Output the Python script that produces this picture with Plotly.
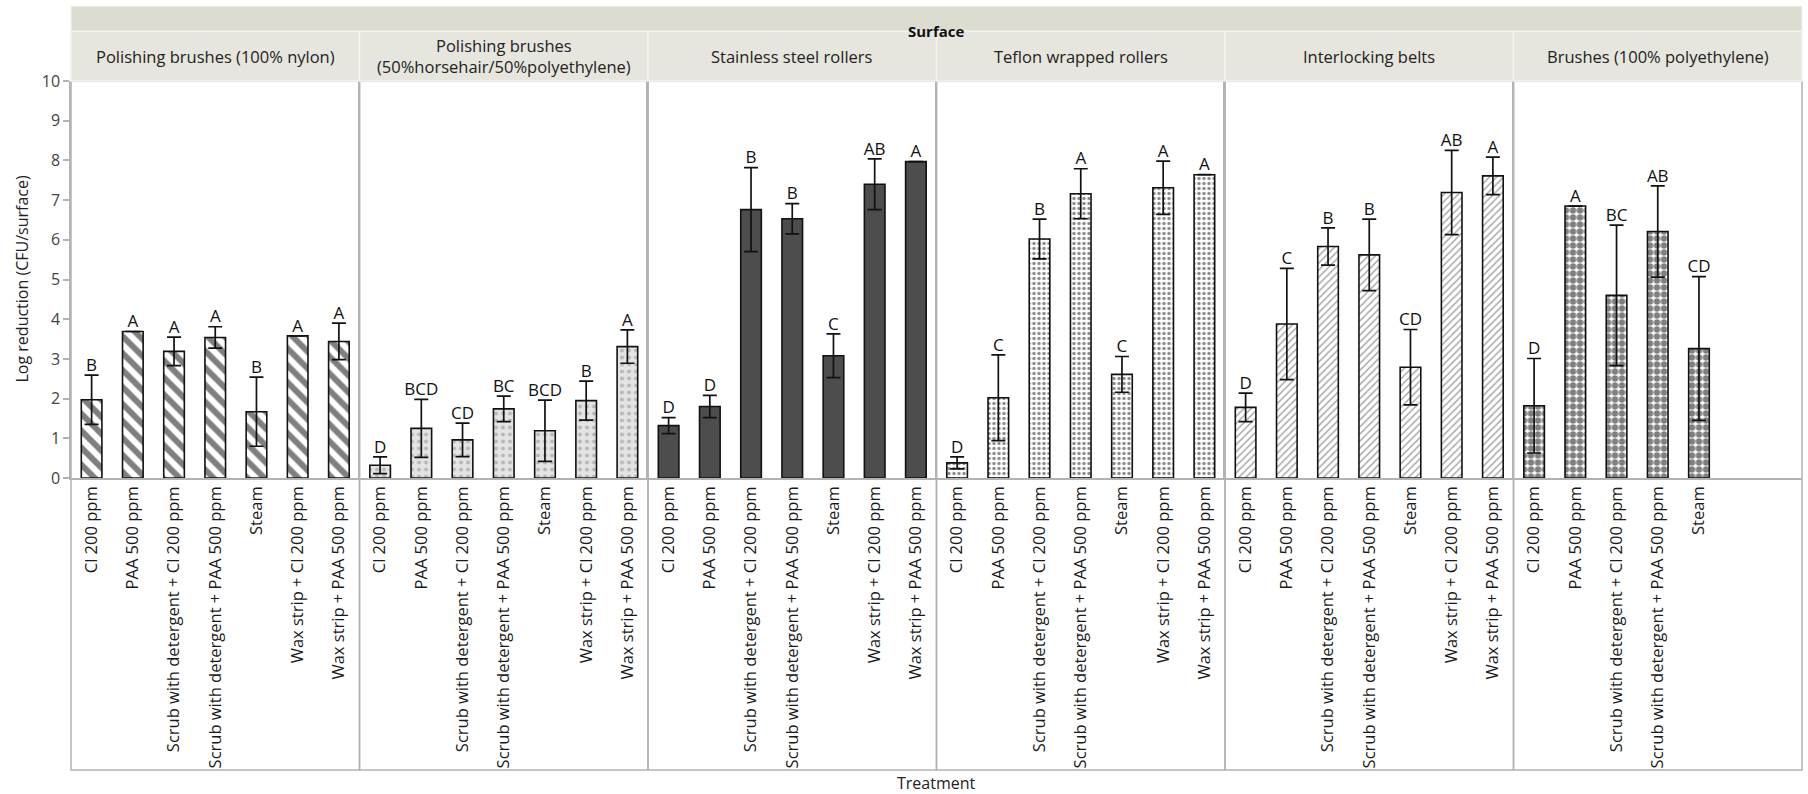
import plotly.graph_objects as go
from plotly.subplots import make_subplots

# ---------------- data ----------------
TREATMENTS = ["Cl 200 ppm", "PAA 500 ppm", "Scrub with detergent + Cl 200 ppm",
              "Scrub with detergent + PAA 500 ppm", "Steam",
              "Wax strip + Cl 200 ppm", "Wax strip + PAA 500 ppm"]
SURFACES = ["Polishing brushes (100% nylon)",
            "Polishing brushes<br>(50%horsehair/50%polyethylene)",
            "Stainless steel rollers", "Teflon wrapped rollers",
            "Interlocking belts", "Brushes (100% polyethylene)"]
Y_TICKS = [0, 1, 2, 3, 4, 5, 6, 7, 8, 9, 10]

nylon_mean = [1.97, 3.69, 3.19, 3.54, 1.67, 3.58, 3.44]
nylon_err = [0.62, 0.0, 0.36, 0.27, 0.87, 0.0, 0.46]
nylon_letters = ["B", "A", "A", "A", "B", "A", "A"]

horsehair_mean = [0.32, 1.25, 0.96, 1.74, 1.19, 1.95, 3.31]
horsehair_err = [0.21, 0.73, 0.42, 0.32, 0.77, 0.49, 0.42]
horsehair_letters = ["D", "BCD", "CD", "BC", "BCD", "B", "A"]

steel_mean = [1.32, 1.80, 6.76, 6.53, 3.08, 7.40, 7.97]
steel_err = [0.20, 0.28, 1.06, 0.38, 0.55, 0.64, 0.0]
steel_letters = ["D", "D", "B", "B", "C", "AB", "A"]

teflon_mean = [0.38, 2.02, 6.02, 7.16, 2.61, 7.31, 7.64]
teflon_err = [0.15, 1.08, 0.50, 0.63, 0.45, 0.67, 0.0]
teflon_letters = ["D", "C", "B", "A", "C", "A", "A"]

belts_mean = [1.78, 3.88, 5.83, 5.62, 2.79, 7.19, 7.61]
belts_err = [0.36, 1.40, 0.47, 0.90, 0.95, 1.06, 0.47]
belts_letters = ["D", "C", "B", "B", "CD", "AB", "A"]

poly_mean = [1.82, 6.85, 4.60, 6.21, 3.26]
poly_err = [1.19, 0.0, 1.77, 1.15, 1.81]
poly_letters = ["D", "A", "BC", "AB", "CD"]

MEANS = [nylon_mean, horsehair_mean, steel_mean, teflon_mean, belts_mean, poly_mean]
ERRS = [nylon_err, horsehair_err, steel_err, teflon_err, belts_err, poly_err]
LETTERS = [nylon_letters, horsehair_letters, steel_letters, teflon_letters,
           belts_letters, poly_letters]

# ---------------- styles ----------------
STYLES = [
    dict(shape="\\", fg="black", bg="white", size=12, solidity=0.5, color="white"),
    dict(shape=".", fg="#8a8a8a", bg="#e4e4e4", size=7, solidity=0.25, color="#e4e4e4"),
    dict(shape="", fg="#4d4d4d", bg="#4d4d4d", size=8, solidity=0.3, color="#4d4d4d"),
    dict(shape=".", fg="#111111", bg="white", size=5, solidity=0.35, color="white"),
    dict(shape="/", fg="#555555", bg="white", size=5, solidity=0.3, color="white"),
    dict(shape=".", fg="black", bg="white", size=7, solidity=0.65, color="white"),
]

W, H = 1808, 794
ML, MR, MT, MB = 71, 6, 81, 316
PH = H - MT - MB
FONT = "Open Sans"
GRAY = "#b3b3b3"


def py(px):
    """pixel y (from top) -> paper y"""
    return (H - MB - px) / PH


fig = make_subplots(rows=1, cols=6, shared_yaxes=True, horizontal_spacing=0)

for i in range(6):
    n = len(MEANS[i])
    cats = TREATMENTS[:n]
    st = STYLES[i]
    fig.add_trace(go.Bar(
        x=cats, y=MEANS[i], width=0.5,
        marker=dict(color=st["color"],
                    line=dict(color="#111111", width=1.6),
                    pattern=dict(shape=st["shape"], fgcolor=st["fg"], bgcolor=st["bg"],
                                 size=st["size"], solidity=st["solidity"],
                                 fillmode="overlay")),
        error_y=dict(type="data", array=ERRS[i], visible=True,
                     color="#111111", thickness=1.7, width=7),
        showlegend=False, hoverinfo="skip"), row=1, col=i + 1)
    tops = [m + e for m, e in zip(MEANS[i], ERRS[i])]
    fig.add_trace(go.Scatter(
        x=cats, y=tops, mode="text", text=LETTERS[i], textposition="top center",
        textfont=dict(family=FONT, size=17, color="#111111"),
        showlegend=False, hoverinfo="skip", cliponaxis=False), row=1, col=i + 1)
    fig.update_xaxes(type="category", categoryorder="array", categoryarray=cats,
                     range=[-0.5, 6.5], tickangle=-90, ticks="", showline=True,
                     linecolor=GRAY, linewidth=1.5, showgrid=False, automargin=False,
                     tickfont=dict(family=FONT, size=16.5, color="#1a1a1a"),
                     row=1, col=i + 1)

fig.update_yaxes(range=[0, 10], tickvals=Y_TICKS, showgrid=False, zeroline=False,
                 showline=True, linecolor=GRAY, linewidth=1.5, automargin=False)
fig.update_yaxes(ticks="outside", ticklen=6, tickcolor=GRAY, tickwidth=1.5,
                 tickfont=dict(family=FONT, size=16, color="#444444"), row=1, col=1)

shapes = []
annotations = []
y_bottom = py(770)
y_head_top = py(31)
y_surf_top = py(6)
for i in range(6):
    x0, x1 = i / 6, (i + 1) / 6
    shapes.append(dict(type="rect", xref="paper", yref="paper", x0=x0, x1=x1,
                       y0=y_bottom, y1=1, line=dict(color=GRAY, width=1.5),
                       fillcolor="rgba(0,0,0,0)", layer="above"))
    shapes.append(dict(type="rect", xref="paper", yref="paper", x0=x0, x1=x1,
                       y0=1, y1=y_head_top, line=dict(color="#f4f4ef", width=1.5),
                       fillcolor="#e6e6de", layer="above"))
    annotations.append(dict(text=SURFACES[i], xref="paper", yref="paper",
                            x=(x0 + x1) / 2, y=(1 + y_head_top) / 2, showarrow=False,
                            xanchor="center", yanchor="middle",
                            font=dict(family=FONT, size=16.5, color="#222222")))
shapes.append(dict(type="rect", xref="paper", yref="paper", x0=0, x1=1,
                   y0=y_head_top, y1=y_surf_top, line=dict(color="#f4f4ef", width=1),
                   fillcolor="#dcdcd1", layer="above"))
annotations.append(dict(text="<b>Surface</b>", xref="paper", yref="paper", x=0.5,
                        y=(y_head_top + y_surf_top) / 2, showarrow=False,
                        font=dict(family=FONT, size=15, color="#111111")))
annotations.append(dict(text="Log reduction (CFU/surface)", xref="paper", yref="paper",
                        x=(21 - ML) / (W - ML - MR), y=0.5, textangle=-90,
                        showarrow=False, xanchor="center", yanchor="middle",
                        font=dict(family=FONT, size=16, color="#222222")))
annotations.append(dict(text="Treatment", xref="paper", yref="paper", x=0.5,
                        y=py(783), showarrow=False, xanchor="center", yanchor="middle",
                        font=dict(family=FONT, size=16, color="#222222")))

fig.update_layout(width=W, height=H, margin=dict(l=ML, r=MR, t=MT, b=MB),
                  plot_bgcolor="white", paper_bgcolor="white",
                  shapes=shapes, annotations=annotations, bargap=0.5,
                  font=dict(family=FONT))

fig.write_html("out.html")
